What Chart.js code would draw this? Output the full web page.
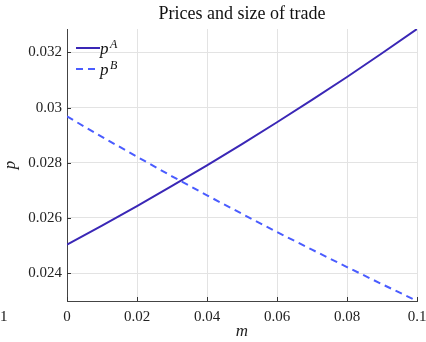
<!DOCTYPE html>
<html><head><meta charset="utf-8">
<script src="https://cdn.jsdelivr.net/npm/chart.js@4/dist/chart.umd.min.js"></script>
<style>html,body{margin:0;padding:0;background:#fff}#wrap{width:426px;height:342px}</style>
</head><body><div id="wrap"><canvas id="c" width="426" height="342"></canvas></div>
<script>
const m  = [0, 0.01, 0.02, 0.03, 0.04, 0.05, 0.06, 0.07, 0.08, 0.09, 0.1];
const pA = [0.02503, 0.02572, 0.02643, 0.02716, 0.02791, 0.02868, 0.02947, 0.03028, 0.03111, 0.03197, 0.03285];
const pB = [0.02968, 0.02894, 0.02822, 0.02751, 0.02682, 0.02615, 0.02549, 0.02485, 0.02422, 0.02360, 0.02299];
const xTicks = [0, 0.02, 0.04, 0.06, 0.08, 0.1];
const yTicks = [0.024, 0.026, 0.028, 0.03, 0.032];
const seriesNames = ['A', 'B'];
const titleText = 'Prices and size of trade';
const SERIF = '"Liberation Serif", "DejaVu Serif", serif';
const fmt = v => String(+v.toFixed(3));

const extras = {
  id: 'extras',
  afterDraw(chart) {
    const ctx = chart.ctx, a = chart.chartArea;
    const xs = chart.scales.x, ys = chart.scales.y;
    ctx.save();
    // inward tick marks
    ctx.strokeStyle = '#333'; ctx.lineWidth = 1;
    yTicks.forEach(v => { const y = Math.round(ys.getPixelForValue(v)) + 0.5;
      ctx.beginPath(); ctx.moveTo(a.left, y); ctx.lineTo(a.left + 4, y); ctx.stroke(); });
    xTicks.forEach(v => { const x = Math.round(xs.getPixelForValue(v)) + 0.5;
      ctx.beginPath(); ctx.moveTo(x, a.bottom); ctx.lineTo(x, a.bottom - 4); ctx.stroke(); });
    // title
    ctx.fillStyle = '#111';
    ctx.font = '18px ' + SERIF;
    ctx.textAlign = 'center'; ctx.textBaseline = 'middle';
    ctx.fillText(titleText, 242, 14);
    // stray clipped label at left
    ctx.font = '15px ' + SERIF;
    ctx.textAlign = 'left';
    ctx.fillText('1', 0, 317);
    // legend
    chart.data.datasets.forEach((ds, i) => {
      const y = 48 + i * 21;
      ctx.strokeStyle = ds.borderColor; ctx.lineWidth = 2;
      ctx.setLineDash(ds.borderDash || []);
      ctx.beginPath(); ctx.moveTo(76, y); ctx.lineTo(100, y); ctx.stroke();
      ctx.setLineDash([]);
      ctx.fillStyle = '#111';
      ctx.textAlign = 'left'; ctx.textBaseline = 'alphabetic';
      ctx.font = 'italic 17px ' + SERIF;
      ctx.fillText('p', 100, y + 6);
      ctx.font = 'italic 12px ' + SERIF;
      ctx.fillText(seriesNames[i], 110, y - 0.5);
    });
    ctx.restore();
  }
};

new Chart(document.getElementById('c'), {
  type: 'line',
  data: {
    datasets: [
      { label: 'pA', data: m.map((x, i) => ({x, y: pA[i]})), borderColor: '#3a27b6', borderWidth: 2, pointRadius: 0, tension: 0, fill: false },
      { label: 'pB', data: m.map((x, i) => ({x, y: pB[i]})), borderColor: '#4a5cff', borderWidth: 2, borderDash: [7, 5], pointRadius: 0, tension: 0, fill: false }
    ]
  },
  options: {
    responsive: false, animation: false, devicePixelRatio: 1,
    layout: { padding: { top: 29, right: 9, left: 0, bottom: 0 } },
    plugins: { legend: { display: false }, tooltip: { enabled: false } },
    scales: {
      x: {
        type: 'linear', min: 0, max: 0.1,
        afterBuildTicks: s => { s.ticks = xTicks.map(v => ({value: v})); },
        afterFit: s => { s.height = 41; s.paddingLeft = 0; s.paddingRight = 0; },
        grid: { color: '#e3e3e3', drawTicks: false },
        border: { color: '#444', width: 1 },
        ticks: { callback: v => fmt(v), color: '#222', font: { family: SERIF, size: 15 }, padding: 7, maxRotation: 0 },
        title: { display: true, text: 'm', color: '#222', font: { family: SERIF, size: 17, style: 'italic' }, padding: { top: 0, bottom: 0 } }
      },
      y: {
        type: 'linear', min: 0.02299, max: 0.03285,
        afterBuildTicks: s => { s.ticks = yTicks.map(v => ({value: v})); },
        afterFit: s => { s.width = 67; s.paddingTop = 0; s.paddingBottom = 0; },
        grid: { color: '#e3e3e3', drawTicks: false },
        border: { color: '#444', width: 1 },
        ticks: { callback: v => fmt(v), color: '#222', font: { family: SERIF, size: 15 }, padding: 5 },
        title: { display: true, text: 'p', color: '#222', font: { family: SERIF, size: 17, style: 'italic' }, padding: { top: 0, bottom: 2 } }
      }
    }
  },
  plugins: [extras]
});
</script></body></html>
